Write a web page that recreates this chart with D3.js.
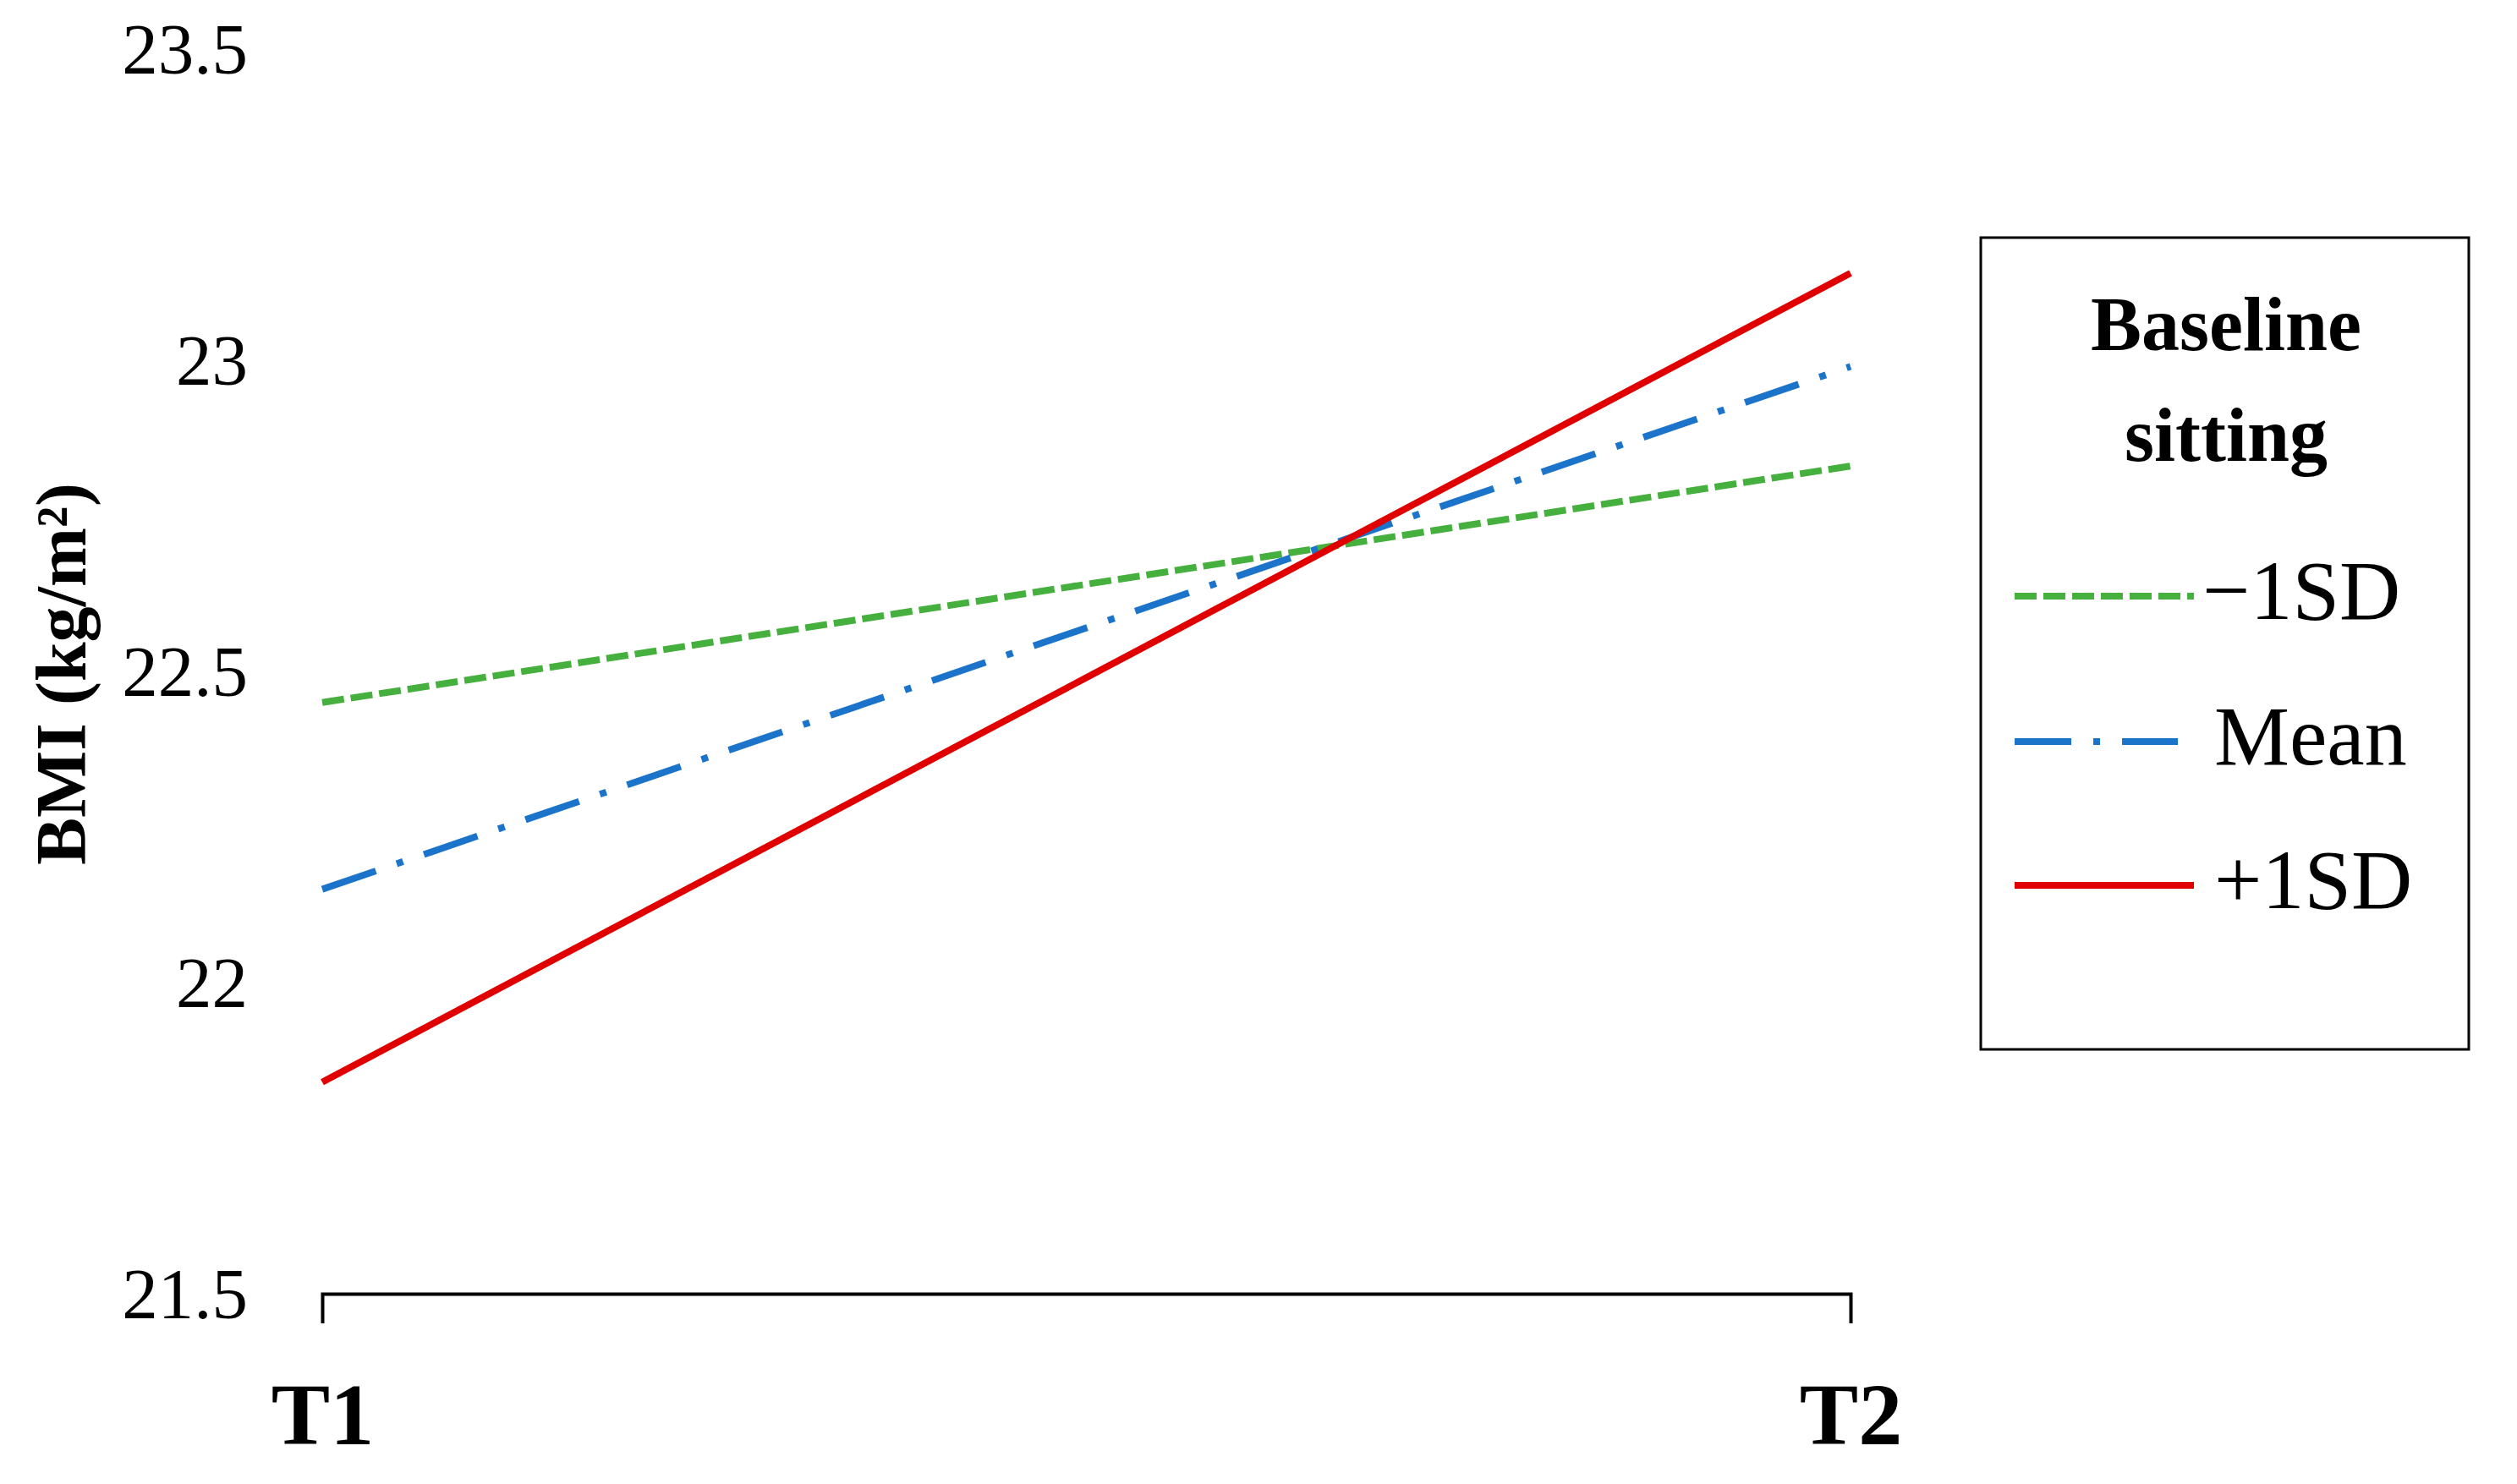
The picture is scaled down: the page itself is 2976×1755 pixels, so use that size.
<!DOCTYPE html>
<html>
<head>
<meta charset="utf-8">
<script src="https://cdn.jsdelivr.net/npm/d3@7"></script>
<style>
html,body{margin:0;padding:0;background:#fff;}
svg{display:block;font-family:"Liberation Serif","Times New Roman",serif;}
</style>
</head>
<body>
<svg id="chart" width="2976" height="1755"></svg>
<script>
const timepoints = ["T1", "T2"];
const seriesNames = ["\u22121SD", "Mean", "+1SD"];
const minus1SD = [22.45, 22.83];
const meanVals = [22.15, 22.99];
const plus1SD = [21.84, 23.14];
const yTicks = [21.5, 22, 22.5, 23, 23.5];
const legendTitle = ["Baseline", "sitting"];
const yTitle = "BMI (kg/m\u00B2)";

const series = [
  {name: seriesNames[0], values: minus1SD, color: "#45b03d", dash: "26,8"},
  {name: seriesNames[1], values: meanVals, color: "#1b74c9", dash: "67,26,8,26"},
  {name: seriesNames[2], values: plus1SD, color: "#e10000", dash: null}
];

const svg = d3.select("#chart");
const x = d3.scalePoint().domain(timepoints).range([381, 2188]);
const y = d3.scaleLinear().domain([21.5, 23.5]).range([1530, 58]);

// y axis labels
const yAxis = d3.axisLeft(y).tickValues(yTicks).tickFormat(d => String(d)).tickSize(0).tickPadding(0);
const gy = svg.append("g").attr("transform", "translate(293,0)").call(yAxis);
gy.select(".domain").remove();
gy.selectAll("text").attr("font-size", 85).attr("fill", "#000")
  .attr("font-family", "Liberation Serif, serif").attr("dy", "0.33em");

// x axis
const xAxis = d3.axisBottom(x).tickSize(0).tickSizeOuter(35).tickPadding(0);
const gx = svg.append("g").attr("transform", "translate(0,1530)").call(xAxis);
gx.select(".domain").attr("stroke", "#000").attr("stroke-width", 4).attr("fill", "none");
gx.selectAll(".tick line").remove();
gx.selectAll("text").attr("font-size", 104).attr("font-weight", "bold").attr("fill", "#000")
  .attr("font-family", "Liberation Serif, serif").attr("dy", null).attr("y", 178);

// y title
svg.append("text")
  .attr("transform", "translate(72,797) rotate(-90)")
  .attr("text-anchor", "middle").attr("dominant-baseline", "central")
  .attr("font-size", 84).attr("font-weight", "bold").text(yTitle);

// lines
const line = d3.line().x((d, i) => x(timepoints[i])).y(d => y(d));
svg.append("g").selectAll("path").data(series).join("path")
  .attr("d", d => line(d.values))
  .attr("fill", "none").attr("stroke", d => d.color).attr("stroke-width", 8)
  .attr("stroke-dasharray", d => d.dash);

// legend
const lg = svg.append("g");
lg.append("rect").attr("x", 2342).attr("y", 281).attr("width", 577).attr("height", 960)
  .attr("fill", "#fff").attr("stroke", "#000").attr("stroke-width", 3);
lg.selectAll("text.title").data(legendTitle).join("text").attr("class", "title")
  .attr("x", 2632).attr("y", (d, i) => 414 + i * 131)
  .attr("text-anchor", "middle").attr("font-size", 90).attr("font-weight", "bold").text(d => d);

const lineYs = [705, 877, 1047];
const lineEnds = [2594, 2575, 2594];
const textXs = [2604, 2618, 2618];
lg.selectAll("line.sample").data(series).join("line").attr("class", "sample")
  .attr("x1", 2382).attr("x2", (d, i) => lineEnds[i])
  .attr("y1", (d, i) => lineYs[i]).attr("y2", (d, i) => lineYs[i])
  .attr("stroke", d => d.color).attr("stroke-width", 8).attr("stroke-dasharray", d => d.dash);
lg.selectAll("text.item").data(series).join("text").attr("class", "item")
  .attr("x", (d, i) => textXs[i]).attr("y", (d, i) => lineYs[i] + 27)
  .attr("font-size", 100).text(d => d.name);
</script>
</body>
</html>
